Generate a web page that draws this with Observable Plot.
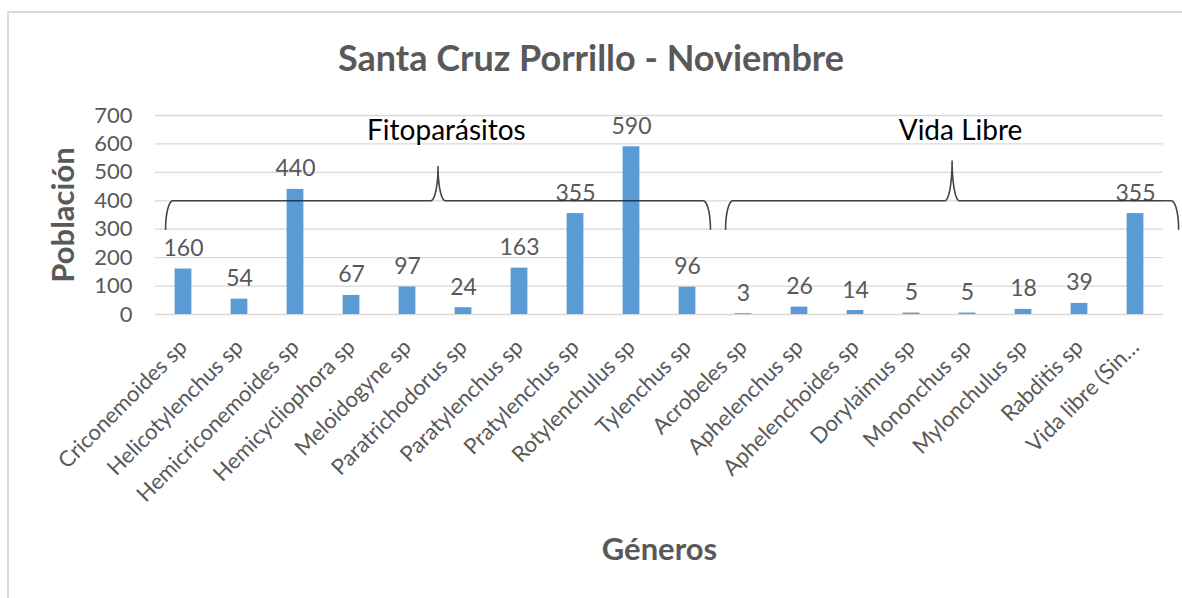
<!DOCTYPE html>
<html>
<head>
<meta charset="utf-8">
<script src="https://cdn.jsdelivr.net/npm/d3@7"></script>
<script src="https://cdn.jsdelivr.net/npm/@observablehq/plot@0.6"></script>
<style>
  html, body { margin: 0; padding: 0; background: #fff; }
  #wrap { position: relative; width: 1182px; height: 598px; overflow: hidden; font-family: Lato, "Open Sans", sans-serif; }
  #frame { position: absolute; left: 7px; top: 11px; width: 1220px; height: 640px; border: 2px solid #d9d9d9; box-sizing: border-box; pointer-events: none; }
  #title { position: relative; width: 1182px; height: 95px; box-sizing: border-box; padding-top: 35px; text-align: center; font-size: 36px; line-height: 44px; font-weight: bold; color: #595959; }
  #chart { position: relative; }
</style>
</head>
<body>
<div id="wrap">
  <div id="frame"></div>
  <div id="title">Santa Cruz Porrillo - Noviembre</div>
  <div id="chart"></div>
</div>
<script>
// ---- data ----
const generos = [
  "Criconemoides sp", "Helicotylenchus sp", "Hemicriconemoides sp", "Hemicycliophora sp",
  "Meloidogyne sp", "Paratrichodorus sp", "Paratylenchus sp", "Pratylenchus sp",
  "Rotylenchulus sp", "Tylenchus sp", "Acrobeles sp", "Aphelenchus sp",
  "Aphelenchoides sp", "Dorylaimus sp", "Mononchus sp", "Mylonchulus sp",
  "Rabditis sp", "Vida libre (Sin…"
];
const poblacion = [160, 54, 440, 67, 97, 24, 163, 355, 590, 96, 3, 26, 14, 5, 5, 18, 39, 355];
const yTicks = [0, 100, 200, 300, 400, 500, 600, 700];
const grupos = ["Fitoparásitos", "Vida Libre"];
const grupoInicio = [0, 10];
const grupoFin = [9, 17];

// ---- build tables ----
const n = generos.length;
const rows = generos.map((g, i) => ({i, genero: g, valor: poblacion[i]}));

// brace geometry (annotation layout)
const braceLeftPad = [0.32, 0.32];
const braceRightPad = [0.41, 0.77];
const braceBase = 400, braceEnd = 300, braceTip = [520, 540];
const braceR = 0.13;
function bracePoints(a, b, tip, g) {
  const pts = [];
  const m = (a + b) / 2;
  const K = 12;
  for (let k = 0; k <= K; k++) {
    const t = (k / K) * Math.PI / 2;
    pts.push({g, x: a + braceR - braceR * Math.cos(t), y: braceEnd + (braceBase - braceEnd) * Math.sin(t)});
  }
  for (let k = 0; k <= K; k++) {
    const t = (k / K) * Math.PI / 2;
    pts.push({g, x: m - braceR + braceR * Math.sin(t), y: tip - (tip - braceBase) * Math.cos(t)});
  }
  for (let k = K; k >= 0; k--) {
    const t = (k / K) * Math.PI / 2;
    pts.push({g, x: m + braceR - braceR * Math.sin(t), y: tip - (tip - braceBase) * Math.cos(t)});
  }
  for (let k = K; k >= 0; k--) {
    const t = (k / K) * Math.PI / 2;
    pts.push({g, x: b - braceR + braceR * Math.cos(t), y: braceEnd + (braceBase - braceEnd) * Math.sin(t)});
  }
  return pts;
}
const braceRows = grupos.flatMap((g, gi) =>
  bracePoints(grupoInicio[gi] - braceLeftPad[gi], grupoFin[gi] + braceRightPad[gi], braceTip[gi], g));
const grupoRows = grupos.map((g, gi) => ({
  g,
  x: (grupoInicio[gi] - braceLeftPad[gi] + grupoFin[gi] + braceRightPad[gi]) / 2 + 0.15,
  y: 647
}));

const chart = Plot.plot({
  width: 1182,
  height: 503,
  marginLeft: 155,
  marginRight: 19,
  marginTop: 20,
  marginBottom: 284,
  x: {domain: [-0.5, n - 0.5]},
  y: {domain: [0, 700]},
  style: {fontFamily: "Lato, 'Open Sans', sans-serif", fontSize: "22px", color: "#595959", background: "transparent", overflow: "visible"},
  marks: [
    Plot.gridY(yTicks, {stroke: "#d9d9d9", strokeOpacity: 1, strokeWidth: 1.3}),
    Plot.rectY(rows, {x1: d => d.i - 0.15, x2: d => d.i + 0.15, y1: 0, y2: "valor", fill: "#5B9BD5"}),
    Plot.text(rows, {x: "i", y: "valor", text: d => String(d.valor), lineAnchor: "bottom", dy: -13, fill: "#595959", fontSize: 23}),
    Plot.line(braceRows, {x: "x", y: "y", z: "g", stroke: "#262626", strokeOpacity: 0.85, strokeWidth: 1.6, curve: "linear"}),
    Plot.text(grupoRows, {x: "x", y: "y", text: "g", fill: "#000", fontSize: 28}),
    Plot.axisY({ticks: yTicks, tickSize: 0, tickPadding: 23, label: null, fontSize: 22}),
    Plot.axisX({ticks: d3.range(n), tickFormat: i => generos[i], tickRotate: -45, tickSize: 0, tickPadding: 29, label: null, fontSize: 22}),
    Plot.text(["Población"], {text: d => d, frameAnchor: "left", textAnchor: "middle", lineAnchor: "middle", rotate: -90, dx: -91, fontWeight: "bold", fontSize: 31, fill: "#595959"}),
    Plot.text(["Géneros"], {text: d => d, frameAnchor: "bottom", textAnchor: "middle", lineAnchor: "middle", dy: 236, fontWeight: "bold", fontSize: 31, fill: "#595959"})
  ]
});
document.getElementById("chart").appendChild(chart);
</script>
</body>
</html>
